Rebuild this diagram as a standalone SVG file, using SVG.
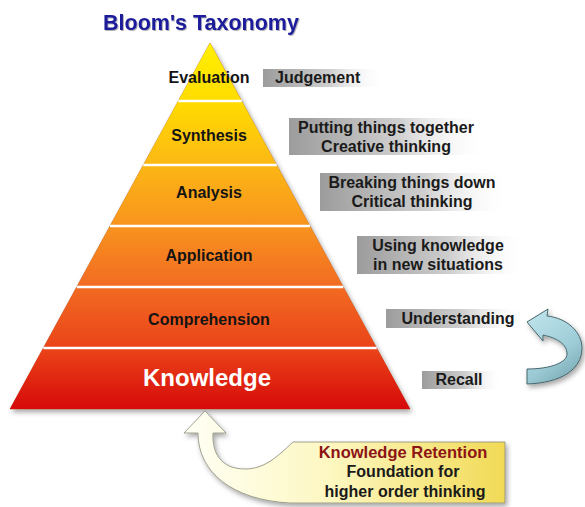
<svg xmlns="http://www.w3.org/2000/svg" width="585" height="507" viewBox="0 0 585 507">
<defs>
<linearGradient id="pyr" gradientUnits="userSpaceOnUse" x1="0" y1="43" x2="0" y2="409">
<stop offset="0" stop-color="#fff000"/>
<stop offset="0.16" stop-color="#ffdc00"/>
<stop offset="0.33" stop-color="#fcb814"/>
<stop offset="0.5" stop-color="#f8931e"/>
<stop offset="0.67" stop-color="#f26a22"/>
<stop offset="0.84" stop-color="#ea4218"/>
<stop offset="1" stop-color="#d60a0a"/>
</linearGradient>
<linearGradient id="gray" x1="0" y1="0" x2="1" y2="0">
<stop offset="0" stop-color="#9c9c9c"/>
<stop offset="0.55" stop-color="#cfcfcf"/>
<stop offset="1" stop-color="#ffffff" stop-opacity="0"/>
</linearGradient>
<linearGradient id="yel" gradientUnits="userSpaceOnUse" x1="190" y1="0" x2="505" y2="0">
<stop offset="0" stop-color="#fffff4"/>
<stop offset="0.45" stop-color="#fdf7c0"/>
<stop offset="1" stop-color="#f1da55"/>
</linearGradient>
<linearGradient id="cyan" gradientUnits="userSpaceOnUse" x1="527" y1="310" x2="582" y2="384">
<stop offset="0" stop-color="#c2e6ee"/>
<stop offset="0.6" stop-color="#9ccbd6"/>
<stop offset="1" stop-color="#6f9fa9"/>
</linearGradient>
<filter id="shadow" x="-10%" y="-10%" width="130%" height="130%">
<feDropShadow dx="2" dy="3" stdDeviation="2.5" flood-color="#000" flood-opacity="0.35"/>
</filter>
<filter id="tshadow" x="-5%" y="-20%" width="110%" height="140%">
<feDropShadow dx="1" dy="1" stdDeviation="0.6" flood-color="#000" flood-opacity="0.3"/>
</filter>
</defs>
<style>
text { font-family: "Liberation Sans", Arial, sans-serif; font-weight: bold; }
.lvl { font-size: 16px; fill: #141414; text-anchor: middle; }
.lab { font-size: 16px; fill: #1a1a1a; text-anchor: middle; }
.band { fill: url(#pyr); }
.sep { stroke: #ffffff; stroke-width: 2.5; }
.gbox { fill: url(#gray); }
</style>

<g id="title">
<text x="201" y="30" font-size="21.5" fill="#1c1c9a" text-anchor="middle" filter="url(#tshadow)">Bloom's Taxonomy</text>
</g>

<g id="pyramid" filter="url(#shadow)">
<polygon points="210,43 410,409 10,409" fill="url(#pyr)" stroke="#9a3a10" stroke-opacity="0.45" stroke-width="1"/>
</g>

<g id="evaluation">
<polygon class="band" points="210,43 241.7,101 178.3,101"/>
<text class="lvl" x="209" y="83">Evaluation</text>
</g>
<g id="synthesis">
<polygon class="band" points="178.3,101 241.7,101 276.7,165 143.3,165"/>
<text class="lvl" x="209" y="141">Synthesis</text>
</g>
<g id="analysis">
<polygon class="band" points="143.3,165 276.7,165 310,226 110,226"/>
<text class="lvl" x="209" y="198">Analysis</text>
</g>
<g id="application">
<polygon class="band" points="110,226 310,226 343.3,287 76.7,287"/>
<text class="lvl" x="209" y="261">Application</text>
</g>
<g id="comprehension">
<polygon class="band" points="76.7,287 343.3,287 376.7,348 43.3,348"/>
<text class="lvl" x="209" y="325">Comprehension</text>
</g>
<g id="knowledge">
<polygon class="band" points="43.3,348 376.7,348 410,409 10,409"/>
<text x="207" y="386" font-size="24" fill="#ffffff" text-anchor="middle">Knowledge</text>
</g>

<g id="separators">
<line class="sep" x1="178.3" y1="101" x2="241.7" y2="101"/>
<line class="sep" x1="143.3" y1="165" x2="276.7" y2="165"/>
<line class="sep" x1="110" y1="226" x2="310" y2="226"/>
<line class="sep" x1="76.7" y1="287" x2="343.3" y2="287"/>
<line class="sep" x1="43.3" y1="348" x2="376.7" y2="348"/>
</g>

<g id="label-judgement">
<rect class="gbox" x="263" y="69" width="122" height="18"/>
<text class="lab" x="275" y="83" style="text-anchor:start">Judgement</text>
</g>
<g id="label-synthesis">
<rect class="gbox" x="289" y="118" width="200" height="37"/>
<text class="lab" x="386" y="133">Putting things together</text>
<text class="lab" x="386" y="152">Creative thinking</text>
</g>
<g id="label-analysis">
<rect class="gbox" x="320" y="173" width="190" height="38"/>
<text class="lab" x="412" y="188">Breaking things down</text>
<text class="lab" x="412" y="207">Critical thinking</text>
</g>
<g id="label-application">
<rect class="gbox" x="357" y="236" width="170" height="38"/>
<text class="lab" x="438" y="251">Using knowledge</text>
<text class="lab" x="438" y="270">in new situations</text>
</g>
<g id="label-comprehension">
<rect class="gbox" x="386" y="309" width="140" height="19"/>
<text class="lab" x="458" y="324">Understanding</text>
</g>
<g id="label-knowledge">
<rect class="gbox" x="422" y="371" width="80" height="18"/>
<text class="lab" x="459" y="385">Recall</text>
</g>

<g id="connectors">
<path d="M205,411 L226,433 L213,433 C212,452 220,469 245,469 C265,469 278,456 293,442 L505,442 L505,503 L290,503 C232,500 198,472 198,433 L184,433 Z" fill="url(#yel)" stroke="#8a8a7a" stroke-width="0.8" filter="url(#shadow)"/>
<path d="M527,322 L548,309 L547,316 C567,318 582,332 582,348 C582,370 560,383 527,384 L527,369 C552,369 567,362 567,354 C567,344 557,338 543,335 L543,341 Z" fill="url(#cyan)" stroke="#46666c" stroke-width="1" filter="url(#shadow)"/>
</g>

<g id="retention">
<text x="403" y="458" font-size="16.5" fill="#8c1414" text-anchor="middle">Knowledge Retention</text>
<text class="lab" x="403" y="477">Foundation for</text>
<text class="lab" x="405" y="497">higher order thinking</text>
</g>
</svg>
